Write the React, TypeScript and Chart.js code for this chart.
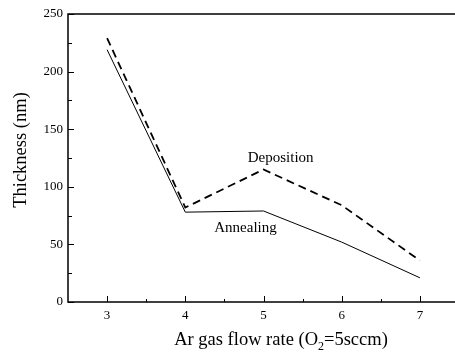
import React, { useEffect, useRef } from "react";
import { Chart, registerables } from "chart.js";

Chart.register(...registerables);

const xValues = [3, 4, 5, 6, 7];
const deposition = [229, 82, 115, 84, 36];
const annealing = [219, 78, 79, 52, 21];
const xTicks = [3, 4, 5, 6, 7];
const xMinorTicks = [3.5, 4.5, 5.5, 6.5];
const yTicks = [0, 50, 100, 150, 200, 250];
const yMinorTicks = [25, 75, 125, 175, 225];
const yTitle = "Thickness (nm)";
const xTitleParts = ["Ar gas flow rate (O", "2", "=5sccm)"];
const depositionLabel = { text: "Deposition", x: 5.22, y: 125 };
const annealingLabel = { text: "Annealing", x: 4.77, y: 64 };

const FONT = '"Liberation Serif", "Times New Roman", serif';

const overlay = {
  id: "overlay",
  afterDraw(chart: any) {
    const { ctx, chartArea: a, scales } = chart;
    const xs = scales.x;
    const ys = scales.y;
    ctx.save();
    ctx.strokeStyle = "#000";
    ctx.lineWidth = 1.5;
    ctx.strokeRect(a.left, a.top, a.right - a.left, a.bottom - a.top);
    ctx.lineWidth = 1;
    ctx.beginPath();
    for (const v of yTicks) {
      const p = Math.round(ys.getPixelForValue(v)) + 0.5;
      ctx.moveTo(a.left, p);
      ctx.lineTo(a.left + 6, p);
    }
    for (const v of yMinorTicks) {
      const p = Math.round(ys.getPixelForValue(v)) + 0.5;
      ctx.moveTo(a.left, p);
      ctx.lineTo(a.left + 4, p);
    }
    for (const v of xTicks) {
      const p = Math.round(xs.getPixelForValue(v)) + 0.5;
      ctx.moveTo(p, a.bottom);
      ctx.lineTo(p, a.bottom - 6);
    }
    for (const v of xMinorTicks) {
      const p = Math.round(xs.getPixelForValue(v)) + 0.5;
      ctx.moveTo(p, a.bottom);
      ctx.lineTo(p, a.bottom - 3);
    }
    ctx.stroke();

    ctx.fillStyle = "#000";
    // annotations
    ctx.font = `15px ${FONT}`;
    ctx.textAlign = "center";
    ctx.textBaseline = "middle";
    for (const l of [depositionLabel, annealingLabel]) {
      ctx.fillText(l.text, xs.getPixelForValue(l.x), ys.getPixelForValue(l.y));
    }

    // y title
    ctx.save();
    ctx.font = `18.5px ${FONT}`;
    ctx.translate(21, 150);
    ctx.rotate(-Math.PI / 2);
    ctx.textAlign = "center";
    ctx.textBaseline = "middle";
    ctx.fillText(yTitle, 0, 0);
    ctx.restore();

    // x title with subscript
    const big = `18.5px ${FONT}`;
    const small = `12px ${FONT}`;
    ctx.textAlign = "left";
    ctx.textBaseline = "alphabetic";
    ctx.font = big;
    const w0 = ctx.measureText(xTitleParts[0]).width;
    const w2 = ctx.measureText(xTitleParts[2]).width;
    ctx.font = small;
    const w1 = ctx.measureText(xTitleParts[1]).width;
    const total = w0 + w1 + w2;
    const cx = 281;
    const base = 345;
    let x = cx - total / 2;
    ctx.font = big;
    ctx.fillText(xTitleParts[0], x, base);
    x += w0;
    ctx.font = small;
    ctx.fillText(xTitleParts[1], x, base + 5);
    x += w1;
    ctx.font = big;
    ctx.fillText(xTitleParts[2], x, base);
    ctx.restore();
  },
};

export default function App() {
  const ref = useRef<HTMLCanvasElement>(null);
  useEffect(() => {
    if (!ref.current) return;
    const chart = new Chart(ref.current, {
      type: "line",
      data: {
        datasets: [
          {
            label: "Deposition",
            data: xValues.map((x, i) => ({ x, y: deposition[i] })),
            borderColor: "#000",
            borderWidth: 1.8,
            borderDash: [8, 5],
            pointRadius: 0,
            tension: 0,
            fill: false,
          },
          {
            label: "Annealing",
            data: xValues.map((x, i) => ({ x, y: annealing[i] })),
            borderColor: "#000",
            borderWidth: 1,
            pointRadius: 0,
            tension: 0,
            fill: false,
          },
        ],
      },
      options: {
        responsive: false,
        animation: false,
        devicePixelRatio: 1,
        layout: { padding: { top: 14, right: 3, left: 0, bottom: 0 } },
        plugins: { legend: { display: false }, tooltip: { enabled: false } },
        scales: {
          x: {
            type: "linear",
            min: 2.5,
            max: 7.5,
            afterBuildTicks: (s: any) => {
              s.ticks = xTicks.map((v) => ({ value: v }));
            },
            afterFit: (s: any) => {
              s.height = 50;
            },
            grid: { display: false, drawTicks: false },
            border: { display: false },
            ticks: {
              color: "#000",
              padding: 6,
              maxRotation: 0,
              font: { family: FONT, size: 13 },
            },
          },
          y: {
            type: "linear",
            min: 0,
            max: 250,
            afterBuildTicks: (s: any) => {
              s.ticks = yTicks.map((v) => ({ value: v }));
            },
            afterFit: (s: any) => {
              s.width = 68;
            },
            grid: { display: false, drawTicks: false },
            border: { display: false },
            ticks: {
              color: "#000",
              padding: 5,
              font: { family: FONT, size: 13 },
            },
          },
        },
      },
      plugins: [overlay],
    });
    return () => chart.destroy();
  }, []);
  return (
    <div
      style={{
        position: "fixed",
        left: 0,
        top: 0,
        width: 455,
        height: 352,
        overflow: "hidden",
        background: "#fff",
      }}
    >
      <canvas ref={ref} width={462} height={352} style={{ display: "block" }} />
    </div>
  );
}
